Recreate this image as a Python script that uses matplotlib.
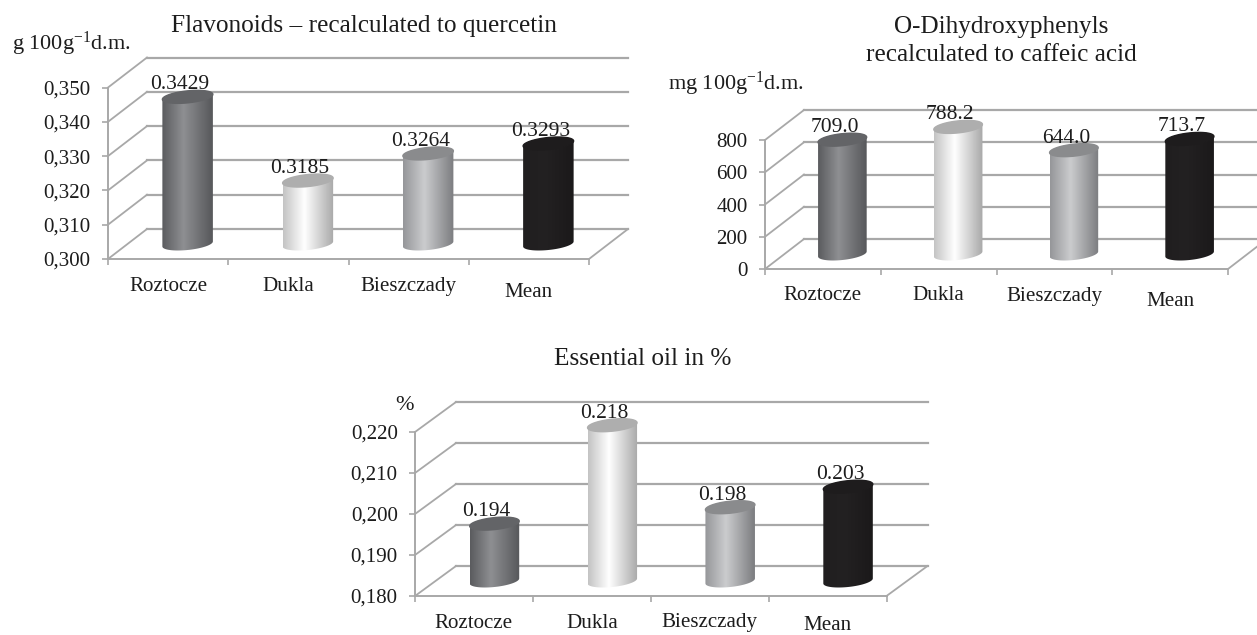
import numpy as np
import matplotlib
matplotlib.use('Agg')
import matplotlib.pyplot as plt
from matplotlib.patches import Polygon

plt.rcParams['font.family'] = ['Liberation Serif', 'DejaVu Serif']
plt.rcParams['mathtext.fontset'] = 'custom'
plt.rcParams['mathtext.rm'] = 'Liberation Serif'
plt.rcParams['mathtext.default'] = 'regular'

categories = ['Roztocze', 'Dukla', 'Bieszczady', 'Mean']

flavonoids = [0.3429, 0.3185, 0.3264, 0.3293]
flavonoid_ticks = [0.300, 0.310, 0.320, 0.330, 0.340, 0.350]

dihydroxy = [709.0, 788.2, 644.0, 713.7]
dihydroxy_ticks = [0, 200, 400, 600, 800]

essential_oil = [0.194, 0.218, 0.198, 0.203]
oil_ticks = [0.180, 0.190, 0.200, 0.210, 0.220]

W, H = 1257, 635
GRID = '#a8a8a8'
TEXT = '#1c1c1c'
FS_TITLE = 18.2
FS_UNIT = 16
FS_VALUE = 15.5
FS_TICK = 15.1

# left edge, highlight, right edge of each cylinder and its top colour
bar_shades = [
    ('#5b5c5f', '#8e8f92', '#57585b', '#636467'),
    ('#c4c4c4', '#ffffff', '#a9a9a9', '#aeaeae'),
    ('#96979a', '#cbccce', '#7c7d80', '#8a8b8d'),
    ('#201e1f', '#232122', '#1b191a', '#1e1c1d'),
]

fig = plt.figure(figsize=(W / 100, H / 100), dpi=100)


def fx(x):
    return x / W


def fy(y):
    return 1 - y / H


def gradient(left, mid, right):
    rgb = [matplotlib.colors.to_rgb(c) for c in (left, mid, right)]
    pos = [0, 0.42, 1]
    t = np.linspace(0, 1, 64)
    return np.array([[np.interp(v, pos, [c[i] for c in rgb]) for i in range(3)] for v in t])[None, :, :]


def cylinder(ax, center, bottom, top, half_w, ry, tilt, shade):
    t1 = np.linspace(np.pi, 2 * np.pi, 40)
    t2 = np.linspace(0, np.pi, 40)
    xs = np.r_[center + half_w * np.cos(t1), center + half_w * np.cos(t2)]
    ys = np.r_[bottom + ry * np.sin(t1) + tilt * np.cos(t1), top + ry * np.sin(t2) + tilt * np.cos(t2)]
    body = Polygon(np.c_[xs, ys], closed=True, facecolor='none', edgecolor='none', zorder=3, clip_on=False)
    ax.add_patch(body)
    im = ax.imshow(gradient(shade[0], shade[1], shade[2]), aspect='auto', interpolation='bilinear',
                   extent=[center - half_w, center + half_w, bottom - 2 * ry, top + 2 * ry], zorder=3)
    # the image would otherwise stop at the axes box
    im.set_clip_path(body)
    im.set_clip_box(fig.bbox)
    t = np.linspace(0, 2 * np.pi, 80)
    ax.fill(center + half_w * np.cos(t), top + ry * np.sin(t) + tilt * np.cos(t),
            color=shade[3], zorder=4, clip_on=False)


def draw_chart(box, values, ticks, tick_fmt, value_fmt, depth=(39, 30), mean_drop=33):
    x0, x1, y_top, y_bot = box
    ax = fig.add_axes([fx(x0), fy(y_bot), fx(x1 - x0), fy(y_top) - fy(y_bot)])
    vmin, vmax = ticks[0], ticks[-1]
    n = len(categories)
    px_y = (vmax - vmin) / (y_bot - y_top)
    px_x = n / (x1 - x0)
    dx = depth[0] * px_x
    dy = depth[1] * px_y

    # walls
    for v in ticks:
        ax.plot([dx, n + dx], [v + dy, v + dy], color=GRID, lw=1.6, zorder=1, clip_on=False)
        ax.plot([0, dx], [v, v + dy], color=GRID, lw=1.3, zorder=1, clip_on=False)
    ax.plot([n, n + dx], [vmin, vmin + dy], color=GRID, lw=1.3, zorder=1, clip_on=False)

    # cylinders
    for i, v in enumerate(values):
        c = i + 0.5 + dx / 2
        cylinder(ax, c, vmin + dy / 2, v + dy / 2, 0.21, 6 * px_y, 2.5 * px_y, bar_shades[i])
        ax.text(c - 8 * px_x, v + dy / 2 + 12 * px_y, value_fmt.format(v), ha='center', va='center',
                fontsize=FS_VALUE, color=TEXT, zorder=5)

    # category labels, Mean sits a little lower in the original
    for i, name in enumerate(categories):
        drop = mean_drop if name == 'Mean' else 27
        ax.text(i + 0.5, vmin - drop * px_y, name, ha='center', va='center',
                fontsize=FS_TICK, color=TEXT, clip_on=False)

    ax.set_xlim(0, n)
    ax.set_ylim(vmin, vmax)
    ax.set_xticks(range(n + 1))
    ax.set_xticklabels([])
    ax.set_yticks(ticks)
    ax.set_yticklabels([tick_fmt.format(t).replace('.', ',') for t in ticks], fontsize=FS_TICK, color=TEXT)
    ax.tick_params(axis='both', color=GRID, width=1.2, length=4)
    ax.tick_params(axis='y', pad=8.5)
    ax.patch.set_visible(False)
    for s in ['top', 'right']:
        ax.spines[s].set_visible(False)
    for s in ['left', 'bottom']:
        ax.spines[s].set_color(GRID)
        ax.spines[s].set_linewidth(1.4)
    return ax


draw_chart((108, 589, 87.5, 259), flavonoids, flavonoid_ticks, '{:.3f}', '{:.4f}')
draw_chart((765, 1228, 140, 269), dihydroxy, dihydroxy_ticks, '{:.0f}', '{:.1f}')
draw_chart((415, 886.5, 432, 596), essential_oil, oil_ticks, '{:.3f}', '{:.3f}', depth=(41, 30), mean_drop=29)

fig.text(fx(364), fy(26), 'Flavonoids – recalculated to quercetin', ha='center', va='center', fontsize=FS_TITLE, color=TEXT)
fig.text(fx(12), fy(44), 'g 100g$^{-1}$d.m.', ha='left', va='center', fontsize=FS_UNIT, color=TEXT)
fig.text(fx(1001), fy(27), 'O-Dihydroxyphenyls', ha='center', va='center', fontsize=FS_TITLE, color=TEXT)
fig.text(fx(1001), fy(55), 'recalculated to caffeic acid', ha='center', va='center', fontsize=FS_TITLE, color=TEXT)
fig.text(fx(668), fy(84), 'mg 100g$^{-1}$d.m.', ha='left', va='center', fontsize=FS_UNIT, color=TEXT)
fig.text(fx(643), fy(359), 'Essential oil in %', ha='center', va='center', fontsize=FS_TITLE, color=TEXT)
fig.text(fx(404), fy(405), '%', ha='center', va='center', fontsize=FS_UNIT, color=TEXT)

fig.savefig('out.png', dpi=100)
